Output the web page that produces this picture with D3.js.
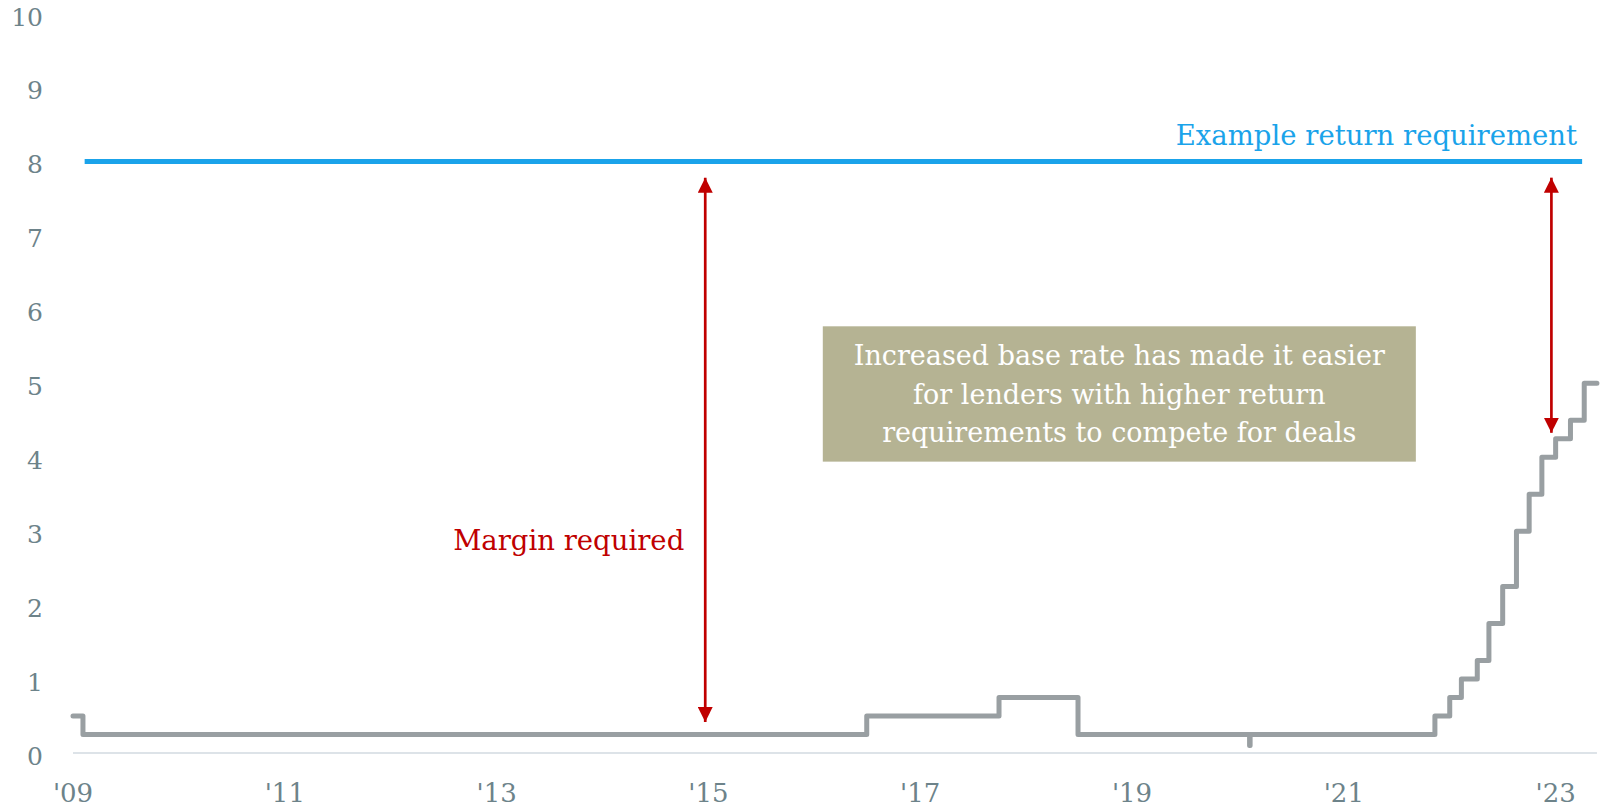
<!DOCTYPE html>
<html>
<head>
<meta charset="utf-8">
<script src="https://cdn.jsdelivr.net/npm/d3@7"></script>
<style>
  html, body { margin:0; padding:0; background:#fff; }
  svg { display:block; }
  text { font-family: Georgia, "DejaVu Serif", serif; }
</style>
</head>
<body>
<div id="chart"></div>
<script>

// base rate, step series (decimal year when the rate changes, value from then on)
var rateDates  = [2009.0, 2009.094, 2016.495, 2017.744, 2018.49, 2020.11, 2020.115, 2021.86, 2022.0, 2022.11, 2022.26, 2022.37, 2022.50, 2022.63, 2022.75, 2022.87, 2023.0, 2023.14, 2023.27, 2023.39];
var rateValues = [0.5,    0.25,     0.5,      0.75,     0.25,    0.1,     0.25,     0.5,     0.75,   1.0,     1.25,    1.75,    2.25,    3.0,     3.5,     4.0,     4.25,   4.5,     5.0,     5.0];

// example return requirement line
var reqValue = 8;
var reqRange = [2009.11, 2023.25];

// axis ticks
var yTicks = [0,1,2,3,4,5,6,7,8,9,10];
var xTicks = [2009, 2011, 2013, 2015, 2017, 2019, 2021, 2023];
var xTickLabels = ["'09","'11","'13","'15","'17","'19","'21","'23"];

// annotation arrows: [year, from value, to value]
var arrows = [
  {year:2014.97, top:7.78, bottom:0.42},
  {year:2022.96, top:7.78, bottom:4.33}
];

var reqLabel = "Example return requirement";
var marginLabel = "Margin required";
var boxLines = ["Increased base rate has made it easier", "for lenders with higher return", "requirements to compete for deals"];
var boxExtent = {x0:2016.08, x1:2021.68, y0:5.77, y1:3.94};

var W = 1602, H = 809;

var svg = d3.select("#chart").append("svg")
	.attr("width", W).attr("height", H);

var X = d3.scaleLinear().domain([2009, 2023.4]).range([73, 1598]);
var Y = d3.scaleLinear().domain([0, 10]).range([753, 13.5]);

var tickColor = "#6d838a";

// baseline
svg.append("line")
	.attr("x1", X(2009)).attr("x2", X(2023.39))
	.attr("y1", Y(0)).attr("y2", Y(0))
	.style("stroke", "#dde3e8").style("stroke-width", 2);

// y tick labels
svg.selectAll(".ytick").data(yTicks).enter().append("text")
	.attr("class","ytick")
	.attr("x", 43)
	.attr("y", function(d){ return Y(d) + 3; })
	.attr("dy", "0.36em")
	.attr("text-anchor", "end")
	.style("font-size", "25px")
	.style("fill", tickColor)
	.text(function(d){ return d; });

// x tick labels
svg.selectAll(".xtick").data(xTicks).enter().append("text")
	.attr("class","xtick")
	.attr("x", function(d){ return X(d); })
	.attr("y", 802)
	.attr("text-anchor", "middle")
	.style("font-size", "26px")
	.style("fill", tickColor)
	.text(function(d,i){ return xTickLabels[i]; });

// base rate step line
var rate = rateDates.map(function(d,i){ return {x:d, y:rateValues[i]}; });
var line = d3.line().curve(d3.curveStepAfter)
	.x(function(d){ return X(d.x); })
	.y(function(d){ return Y(d.y); });

svg.append("path")
	.datum(rate)
	.attr("d", line)
	.style("fill", "none")
	.style("stroke", "#999fa2")
	.style("stroke-width", 5)
	.style("stroke-linejoin", "round")
	.style("stroke-linecap", "round");

// return requirement
svg.append("line")
	.attr("x1", X(reqRange[0])).attr("x2", X(reqRange[1]))
	.attr("y1", Y(reqValue)).attr("y2", Y(reqValue))
	.style("stroke", "#1aa3ea").style("stroke-width", 5);

svg.append("text")
	.attr("x", X(reqRange[1]) - 5)
	.attr("y", Y(reqValue) - 16)
	.attr("text-anchor", "end")
	.style("font-size", "27.5px")
	.style("fill", "#1aa3ea")
	.text(reqLabel);

// arrows
var red = "#c00000";
var defs = svg.append("defs");
defs.append("marker")
	.attr("id", "head")
	.attr("viewBox", "0 0 16 15")
	.attr("refX", 15).attr("refY", 7.5)
	.attr("markerWidth", 16).attr("markerHeight", 15)
	.attr("markerUnits", "userSpaceOnUse")
	.attr("orient", "auto-start-reverse")
	.append("path")
	.attr("d", "M0,0L15,7.5L0,15Z")
	.style("fill", red);

svg.selectAll(".arrow").data(arrows).enter().append("line")
	.attr("class","arrow")
	.attr("x1", function(d){ return X(d.year); })
	.attr("x2", function(d){ return X(d.year); })
	.attr("y1", function(d){ return Y(d.top); })
	.attr("y2", function(d){ return Y(d.bottom); })
	.style("stroke", red).style("stroke-width", 2.7)
	.attr("marker-start", "url(#head)")
	.attr("marker-end", "url(#head)");

svg.append("text")
	.attr("x", X(arrows[0].year) - 21)
	.attr("y", 550)
	.attr("text-anchor", "end")
	.style("font-size", "27.5px")
	.style("fill", red)
	.text(marginLabel);

// annotation box
var bx0 = X(boxExtent.x0), bx1 = X(boxExtent.x1), by0 = Y(boxExtent.y0), by1 = Y(boxExtent.y1);
svg.append("rect")
	.attr("x", bx0).attr("y", by0)
	.attr("width", bx1 - bx0).attr("height", by1 - by0)
	.style("fill", "#b5b393");

svg.selectAll(".boxline").data(boxLines).enter().append("text")
	.attr("class","boxline")
	.attr("x", (bx0 + bx1) / 2)
	.attr("y", function(d,i){ return by0 + 39 + i*38.3; })
	.attr("text-anchor", "middle")
	.style("font-size", "27px")
	.style("fill", "#ffffff")
	.text(function(d){ return d; });

</script>
</body>
</html>
